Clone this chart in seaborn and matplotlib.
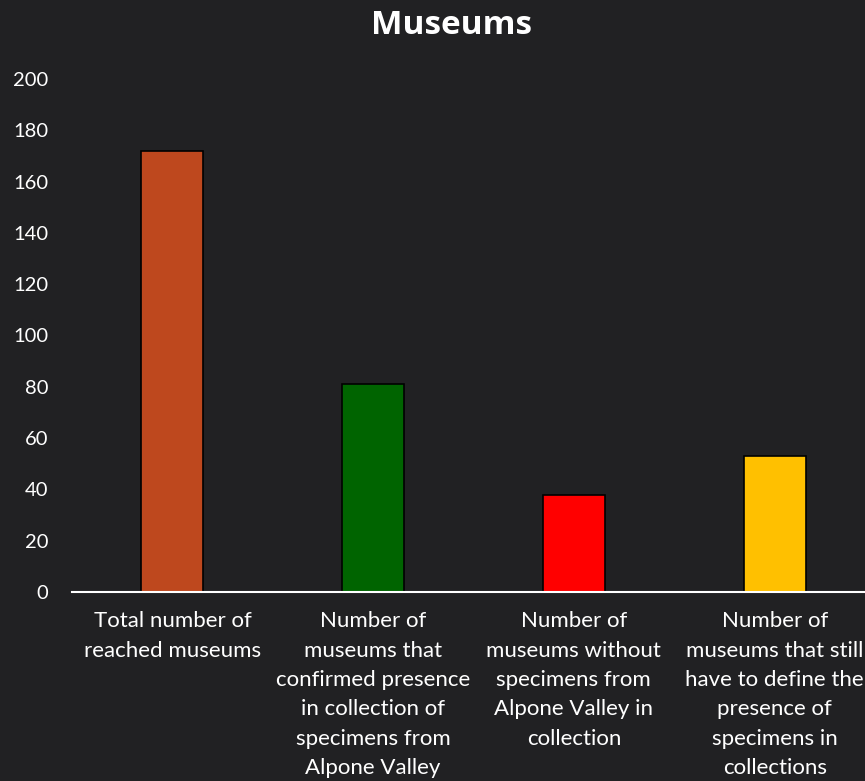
import matplotlib
matplotlib.use("Agg")
import matplotlib.pyplot as plt
import seaborn as sns
import pandas as pd

categories = [
    "Total number of\nreached museums",
    "Number of\nmuseums that\nconfirmed presence\nin collection of\nspecimens from\nAlpone Valley",
    "Number of\nmuseums without\nspecimens from\nAlpone Valley in\ncollection",
    "Number of\nmuseums that still\nhave to define the\npresence of\nspecimens in\ncollections",
]
values = [172, 81, 38, 53]
colors = ["#BE481E", "#006400", "#FF0000", "#FFC000"]
yticks = [0, 20, 40, 60, 80, 100, 120, 140, 160, 180, 200]

sns.set_theme(style="dark")
plt.rcParams["font.family"] = ["Lato", "DejaVu Sans"]

bg = "#212123"
fig = plt.figure(figsize=(8.65, 7.81), dpi=100, facecolor=bg)
ax = fig.add_axes([72 / 865, 189 / 781, 803 / 865, 513 / 781])
ax.set_facecolor(bg)

df = pd.DataFrame({"cat": categories, "val": values})
sns.barplot(data=df, x="cat", y="val", hue="cat", palette=colors,
            width=0.31, edgecolor="black", linewidth=1.2, legend=False, ax=ax,
            saturation=1)

ax.set_ylim(0, 200)
ax.set_yticks(yticks)
ax.set_yticklabels([str(t) for t in yticks], color="white", fontsize=14.5)
ax.tick_params(axis="y", length=0, pad=17)
ax.tick_params(axis="x", length=0, pad=14)
for lbl in ax.get_xticklabels():
    lbl.set_color("white")
    lbl.set_fontsize(16)
    lbl.set_linespacing(1.58)
    lbl.set_verticalalignment("top")
for lbl in ax.get_yticklabels():
    lbl.set_horizontalalignment("right")
ax.set_xlabel("")
ax.set_ylabel("")
ax.grid(False)
for s in ["top", "right", "left"]:
    ax.spines[s].set_visible(False)
ax.spines["bottom"].set_color("white")
ax.spines["bottom"].set_linewidth(1.5)

fig.text(451 / 865, 1 - 26 / 781, "Museums", ha="center", va="center",
         color="white", fontsize=24, fontweight="bold",
         family=["Open Sans", "DejaVu Sans"])

fig.savefig("out.png", dpi=100, facecolor=bg)
